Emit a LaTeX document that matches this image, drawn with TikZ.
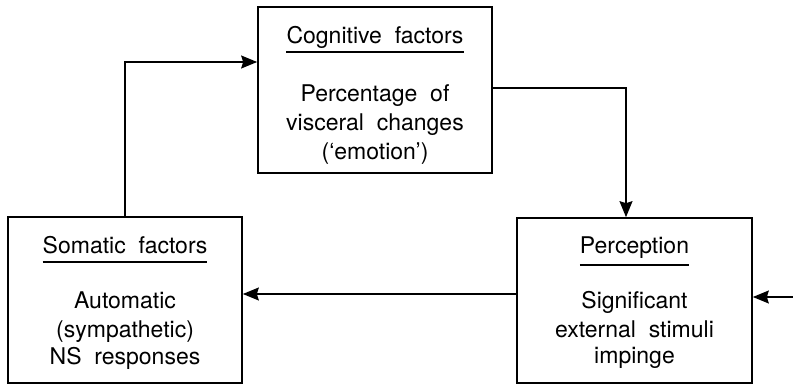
\documentclass[tikz,border=0pt]{standalone}
\usepackage{fontspec}
\setmainfont{TeX Gyre Heros}[WordSpace=2]
\usetikzlibrary{arrows.meta}
\begin{document}
\begin{tikzpicture}[x=1pt,y=-1pt,
  box/.style={draw,line width=1.7pt,inner sep=0pt},
  ttl/.style={anchor=base,inner sep=0pt,font=\fontsize{23}{29}\selectfont},
  txt/.style={anchor=base,inner sep=0pt,font=\fontsize{23}{29}\selectfont},
  conn/.style={line width=1.4pt,-{Stealth[length=16pt,width=13pt,inset=2pt]}},
  ul/.style={line width=1.1pt}]
\useasboundingbox (0,0) rectangle (793,386);
% boxes
\node[box,minimum width=234pt,minimum height=166pt] (cog) at (375,90) {};
\node[box,minimum width=234pt,minimum height=166pt] (som) at (125,300) {};
\node[box,minimum width=235pt,minimum height=165pt] (per) at (634.5,300.5) {};
% cognitive text
\node[ttl] (cogt) at (375,43) {Cognitive factors};
\draw[ul] ([yshift=-9pt]cogt.base west) -- ([yshift=-9pt]cogt.base east);
\node[txt] (cog1) at (375,101) {Percentage of};
\node[txt] (cog2) at (375,130) {visceral changes};
\node[txt] (cog3) at (375,159) {(`emotion')};
% somatic text
\node[ttl] (somt) at (125,253) {Somatic factors};
\draw[ul] ([yshift=-9pt]somt.base west) -- ([yshift=-9pt]somt.base east);
\node[txt] (som1) at (125,308) {Automatic};
\node[txt] (som2) at (125,337) {(sympathetic)};
\node[txt] (som3) at (125,364) {NS responses};
% perception text
\node[ttl] (pert) at (634.5,253) {Perception};
\draw[ul] ([yshift=-12pt]pert.base west) -- ([yshift=-12pt]pert.base east);
\node[txt] (per1) at (634.5,308) {Significant};
\node[txt] (per2) at (634.5,337) {external stimuli};
\node[txt] (per3) at (634.5,363) {impinge};
% connectors
\draw[conn] (som.north) |- ([yshift=28pt]cog.west);
\draw[conn] ([yshift=2pt]cog.east) -| ([xshift=-8.5pt]per.north);
\draw[conn] ([yshift=6.5pt]per.west) -- ([yshift=6.5pt]per.west -| som.east);
\coordinate (in) at (793,297);
\draw[conn] (in) -- (in -| per.east);
\end{tikzpicture}
\end{document}
